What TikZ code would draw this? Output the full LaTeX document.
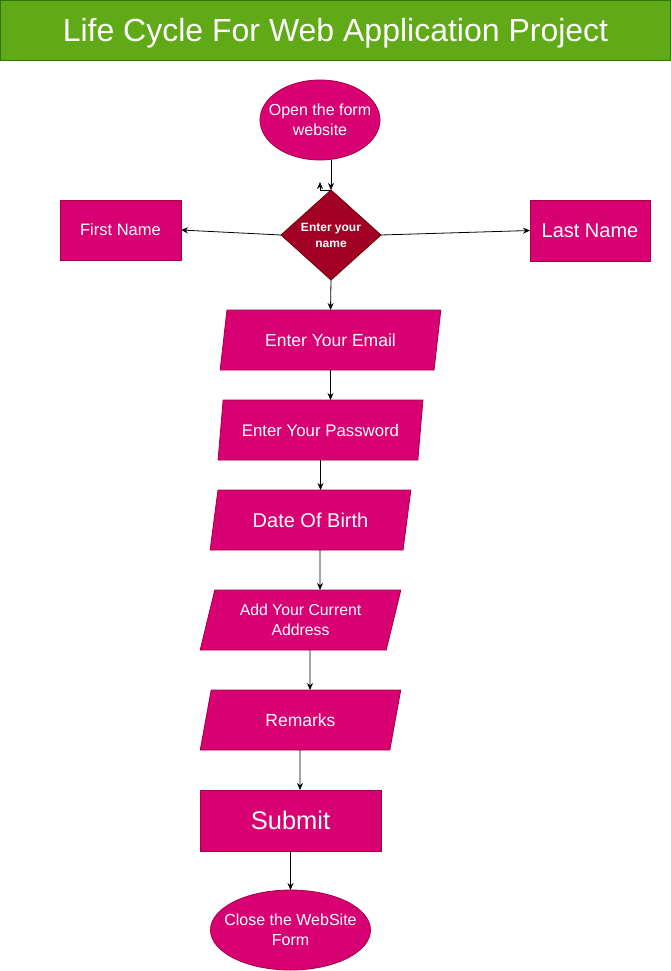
\documentclass[tikz,border=0pt]{standalone}
\usepackage{fontspec}
\setmainfont{Liberation Sans}
\usetikzlibrary{shapes.geometric,arrows.meta}
\definecolor{titlegreen}{HTML}{60A917}
\definecolor{titleborder}{HTML}{2D7600}
\definecolor{pinkfill}{HTML}{D80073}
\definecolor{pinkborder}{HTML}{A50040}
\definecolor{redfill}{HTML}{A20025}
\definecolor{redborder}{HTML}{6F0000}
\newcommand{\fs}[2]{\fontsize{#1}{#2}\selectfont}
\begin{document}
\begin{tikzpicture}[x=1pt,y=-1pt,
  base/.style={text=white, inner sep=0pt, outer sep=0pt, align=center, line width=0.8pt},
  titlebox/.style={base, rectangle, fill=titlegreen, draw=titleborder, minimum width=670, minimum height=60},
  pinkbox/.style={base, rectangle, fill=pinkfill, draw=pinkborder},
  oval/.style={base, ellipse, fill=pinkfill, draw=pinkborder},
  ovaltext/.style={text=white, align=center, inner sep=0pt},
  decision/.style={base, diamond, fill=redfill, draw=redborder, minimum width=100, minimum height=90},
  slant/.style={base, trapezium, trapezium left angle=71.57, trapezium right angle=108.43,
    trapezium stretches=true, fill=pinkfill, draw=pinkborder, minimum width=221, minimum height=60},
  arr/.style={line width=0.8pt, -{Stealth[length=7pt,width=6pt]}}]
\useasboundingbox (0,0) rectangle (671,971);

\node[titlebox, font=\fs{32}{36}, text height=23, text depth=0pt] (title) at (335.5,30.5) {Life Cycle For Web Application Project};

\node[oval, minimum width=120, minimum height=80,
  label={[ovaltext, font=\fs{16}{20}]center:Open the form\\website}] (open) at (320,120) {};
\node[decision, font=\fs{12}{16}\bfseries] (name) at (331,235) {Enter your\\name};
\node[pinkbox, minimum width=121, minimum height=60, font=\fs{16.5}{20}] (first) at (120.5,230) {First Name};
\node[pinkbox, minimum width=120, minimum height=61, font=\fs{20}{24}] (last) at (590,230.5) {Last Name};

\node[slant, font=\fs{17.5}{21}] (email) at (330.5,340) {Enter Your Email};
\node[slant, minimum width=205, font=\fs{16.8}{20}] (pw) at (320.5,430) {Enter Your Password};
\node[slant, minimum width=201, font=\fs{20}{24}] (dob) at (310.5,520) {Date Of Birth};
\node[slant, minimum width=201, font=\fs{15.8}{19.5}] (addr) at (300.5,620) {Add Your Current\\Address};
\node[slant, minimum width=201, font=\fs{17.5}{21}] (rem) at (300.5,720) {Remarks};
\node[pinkbox, minimum width=181, minimum height=61, font=\fs{25.5}{30}] (submit) at (290.5,820.5) {Submit};
\node[oval, minimum width=160, minimum height=80,
  label={[ovaltext, font=\fs{16}{19.5}]center:Close the WebSite\\Form}] (close) at (290.5,930) {};

\draw[arr] ([xshift=11pt]open.south) -- (name.north);
\draw[arr] (name.north) -| ++(-11,-8);
\draw[arr] (name.west) -- (first.east);
\draw[arr] (name.east) -- (last.west);
\draw[arr] (name.south) -- (email.north);
\draw[arr] (email.south) -- ([xshift=10pt]pw.north);
\draw[arr] (pw.south) -- ([xshift=10pt]dob.north);
\draw[arr] ([xshift=9.5pt]dob.south) -- ([xshift=19.5pt]addr.north);
\draw[arr] ([xshift=9.5pt]addr.south) -- ([xshift=9.5pt]rem.north);
\draw[arr] ([xshift=-0.5pt]rem.south) -- ([xshift=9.5pt]submit.north);
\draw[arr] (submit.south) -- (close.north);
\end{tikzpicture}
\end{document}
